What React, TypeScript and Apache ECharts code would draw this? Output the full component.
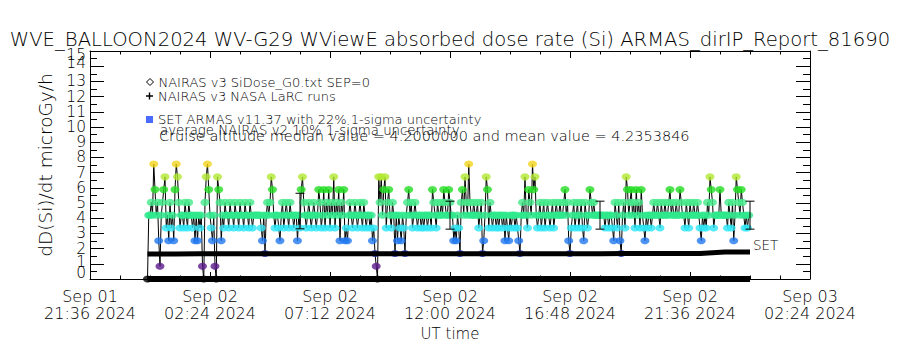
import React, { useEffect, useRef } from "react";
import * as echarts from "echarts";

const FONT = '"DejaVu Sans", sans-serif';
const TITLE = "WVE_BALLOON2024 WV-G29 WViewE absorbed dose rate (Si) ARMAS_dirIP_Report_81690";

// x axis: minutes after 2024-09-01 21:36 UT
const EPOCH_UTC = Date.UTC(2024, 8, 1, 21, 36);
const X_MAX_MIN = 1728;
const X_LABEL_STEP_MIN = 288;
const MONTHS = ["Jan", "Feb", "Mar", "Apr", "May", "Jun", "Jul", "Aug", "Sep", "Oct", "Nov", "Dec"];

// ARMAS: 3-minute cadence starting 23:54 UT, values are quantised levels
const ARMAS_START_MIN = 138;
const ARMAS_STEP_MIN = 3;
const ARMAS_LEVEL_VALUES = [0, 0.84, 1.68, 2.52, 3.36, 4.2, 5.04, 5.88, 6.72, 7.56];
const ARMAS_LEVEL_COLORS = [
  "#000000", "#5c1a8c", "#2a3cc8", "#1f78f0", "#2ee6f5",
  "#2ee88c", "#44ea8a", "#22dd22", "#b0e830", "#f2d41c",
];
// one string per hour, one digit (level index) per 3-minute sample
const ARMAS_CODES_BY_HOUR = [
  "05565975631567845364",
  "53798645546546554535",
  "35451068975435108763",
  "54655465546554655465",
  "54654555555435256568",
  "75455435645654655455",
  "35478654565456545764",
  "57465746584657365734",
  "35654565456546545545",
  "34210868578467546525",
  "35435425675645654554",
  "54554554765465565765",
  "57655343542675865965",
  "56556456235874654554",
  "54554535435455454325",
  "65854765978545645645",
  "65456456556556756324",
  "56456456436545765655",
  "55555545545543654632",
  "56487567564756475435",
  "45545655654655655675",
  "65565576554654655655",
  "65435454658764555575",
  "55554654635876576545",
  "45",
];

// NAIRAS v3 SiDose (hourly)
const NAIRAS_TIMES = [138, 204, 264, 324, 384, 444, 504, 564, 624, 684, 744, 804, 864, 924, 984, 1044, 1104, 1164, 1224, 1284, 1344, 1404, 1464, 1524, 1584];
const NAIRAS_DOSE = [1.64, 1.65, 1.66, 1.66, 1.66, 1.66, 1.66, 1.66, 1.66, 1.66, 1.66, 1.66, 1.66, 1.66, 1.66, 1.66, 1.66, 1.66, 1.66, 1.67, 1.67, 1.67, 1.68, 1.77, 1.78];

// NAIRAS v3 NASA LaRC runs
const LARC_TIMES = [138, 1584];
const LARC_DOSE = [0, 0];

// ARMAS 22% 1-sigma bars
const ERR_TIMES = [504, 864, 1224, 1584];
const ERR_LOW = [3.3, 3.28, 3.28, 3.28];
const ERR_HIGH = [5.64, 5.12, 5.12, 5.12];

const N_SIDOSE = "NAIRAS v3 SiDose_G0.txt SEP=0";
const N_LARC = "NAIRAS v3 NASA LaRC runs";
const N_ARMAS = "SET ARMAS v11.37 with 22% 1-sigma uncertainty";
const NOTE_1 = "average NAIRAS v2 10% 1-sigma uncertainty";
const NOTE_2 = "Cruise altitude median value = 4.2000000 and mean value = 4.2353846";

function pad(n: number) {
  return String(n).padStart(2, "0");
}
function fmtTime(m: number) {
  const d = new Date(EPOCH_UTC + m * 60000);
  return `${MONTHS[d.getUTCMonth()]} ${pad(d.getUTCDate())}\n${pad(d.getUTCHours())}:${pad(d.getUTCMinutes())} ${d.getUTCFullYear()}`;
}

function buildOption() {
  const codes = ARMAS_CODES_BY_HOUR.join("").split("").map(Number);
  const armasLine = codes.map((c, i) => [ARMAS_START_MIN + i * ARMAS_STEP_MIN, ARMAS_LEVEL_VALUES[c]]);
  const armasPts = codes.map((c, i) => ({
    value: [ARMAS_START_MIN + i * ARMAS_STEP_MIN, ARMAS_LEVEL_VALUES[c]],
    itemStyle: { color: ARMAS_LEVEL_COLORS[c] },
  }));
  const nairas = NAIRAS_TIMES.map((t, i) => [t, NAIRAS_DOSE[i]]);
  const larc = LARC_TIMES.map((t, i) => [t, LARC_DOSE[i]]);
  const errs = ERR_TIMES.map((t, i) => [t, ERR_LOW[i], ERR_HIGH[i]]);

  const black = "#000";
  const xBase = {
    type: "value",
    min: 0,
    max: X_MAX_MIN,
    interval: X_LABEL_STEP_MIN,
    axisLine: { show: true, onZero: false, lineStyle: { color: black, width: 1 } },
    axisTick: { show: true, inside: true, length: 7, lineStyle: { color: black, width: 1 } },
    minorTick: { show: true, splitNumber: 4, length: 3.5, lineStyle: { color: black, width: 1 } },
    splitLine: { show: false },
    minorSplitLine: { show: false },
  };
  const yBase = {
    type: "value",
    min: 0,
    max: 15,
    interval: 1,
    axisLine: { show: true, onZero: false, lineStyle: { color: black, width: 1 } },
    axisTick: { show: true, inside: true, length: 14, lineStyle: { color: black, width: 1 } },
    minorTick: { show: true, splitNumber: 2, length: 7, lineStyle: { color: black, width: 1 } },
    splitLine: { show: false },
    minorSplitLine: { show: false },
  };
  const tickFont = { fontFamily: FONT, fontSize: 15.5, color: black, fontWeight: 200 };

  return {
    animation: false,
    backgroundColor: "#ffffff",
    title: {
      text: TITLE,
      left: "center",
      top: 29,
      padding: 0,
      textStyle: { fontFamily: FONT, fontSize: 19.6, fontWeight: 200, color: black },
    },
    grid: { left: 90, right: 90, top: 51, bottom: 71, containLabel: false, outerBoundsMode: "none" },
    legend: [
      {
        data: [{ name: N_SIDOSE, icon: "diamond", itemStyle: { color: "#fff", borderColor: black, borderWidth: 1 } }],
        left: 146, top: 75, padding: 0, itemWidth: 7, itemHeight: 7, selectedMode: false,
        textStyle: { fontFamily: FONT, fontSize: 13, color: black, lineHeight: 14, fontWeight: 200 },
      },
      {
        data: [{ name: N_LARC, icon: "path://M2.4,0H3.6V2.4H6V3.6H3.6V6H2.4V3.6H0V2.4H2.4Z", itemStyle: { color: black } }],
        left: 146, top: 89, padding: 0, itemWidth: 7, itemHeight: 7, selectedMode: false,
        textStyle: { fontFamily: FONT, fontSize: 13, color: black, lineHeight: 14, fontWeight: 200 },
      },
      {
        data: [{ name: N_ARMAS, icon: "rect", itemStyle: { color: "#1e46ff" } }],
        left: 146, top: 112.5, padding: 0, itemWidth: 7, itemHeight: 7, selectedMode: false,
        textStyle: { fontFamily: FONT, fontSize: 13, color: black, lineHeight: 14, fontWeight: 200 },
      },
    ],
    graphic: [
      { type: "text", left: 160, top: 123.5, silent: true, style: { text: NOTE_1, font: `200 13.3px ${FONT}`, fill: black } },
      { type: "text", left: 159, top: 128.5, silent: true, style: { text: NOTE_2, font: `200 14.5px ${FONT}`, fill: black } },
    ],
    xAxis: [
      {
        ...xBase,
        position: "bottom",
        axisLabel: { formatter: fmtTime, fontFamily: FONT, fontSize: 16, lineHeight: 17, color: black, margin: 9, fontWeight: 200, showMinLabel: true, showMaxLabel: true },
        name: "UT time",
        nameLocation: "middle",
        nameGap: 44,
        nameTextStyle: { fontFamily: FONT, fontSize: 15, color: black, fontWeight: 200 },
      },
      { ...xBase, position: "top", axisLabel: { show: false } },
    ],
    yAxis: [
      {
        // ticks on the left side, labels 1..14
        ...yBase,
        position: "left",
        axisLabel: {
          ...tickFont,
          margin: 4,
          showMinLabel: false,
          showMaxLabel: false,
          formatter: (v: number) => (v === 14 ? `{up3|${v}}` : v === 1 ? `{up2|${v}}` : `${v}`),
          rich: {
            up3: { ...tickFont, padding: [0, 0, 6, 0] },
            up2: { ...tickFont, padding: [0, 0, 4, 0] },
          },
        },
        name: "dD(Si)/dt microGy/h",
        nameLocation: "middle",
        nameRotate: 90,
        nameGap: 33,
        nameTextStyle: { fontFamily: FONT, fontSize: 18.5, color: black, fontWeight: 200 },
      },
      { ...yBase, position: "right", axisLabel: { show: false } },
      {
        // end labels 0 and 15, pulled inside the frame
        type: "value",
        position: "left",
        min: 0,
        max: 15,
        interval: 15,
        axisLine: { show: false },
        axisTick: { show: false },
        splitLine: { show: false },
        axisLabel: {
          ...tickFont,
          margin: 4,
          showMinLabel: true,
          showMaxLabel: true,
          formatter: (v: number) => (v === 15 ? `{dn|${v}}` : `{up6|${v}}`),
          rich: {
            dn: { ...tickFont, padding: [8, 0, 0, 0] },
            up6: { ...tickFont, padding: [0, 0, 12, 0] },
          },
        },
      },
    ],
    series: [
      {
        name: "ARMAS trace",
        type: "line",
        data: armasLine,
        symbol: "none",
        lineStyle: { color: black, width: 1 },
        itemStyle: { color: black },
        z: 2,
      },
      {
        name: N_ARMAS,
        type: "scatter",
        data: armasPts,
        symbol: "circle",
        symbolSize: [9, 7],
        itemStyle: { color: "#1e46ff" },
        z: 3,
      },
      {
        name: N_SIDOSE,
        type: "line",
        data: nairas,
        symbol: "none",
        lineStyle: { color: black, width: 5 },
        itemStyle: { color: black },
        endLabel: { show: true, formatter: "SET", fontFamily: FONT, fontSize: 13.5, color: black, offset: [-5, -7], fontWeight: 200 },
        z: 4,
      },
      {
        name: N_LARC,
        type: "line",
        data: larc,
        symbol: "none",
        lineStyle: { color: black, width: 6 },
        itemStyle: { color: black },
        clip: true,
        z: 4,
      },
      {
        name: "ARMAS 22% 1-sigma",
        type: "custom",
        data: errs,
        encode: { x: 0, y: [1, 2] },
        z: 5,
        renderItem: (_p: any, api: any) => {
          const t = api.value(0);
          const lo = api.coord([t, api.value(1)]);
          const hi = api.coord([t, api.value(2)]);
          const hw = 4.5;
          const st = { stroke: black, lineWidth: 1 };
          return {
            type: "group",
            children: [
              { type: "line", shape: { x1: lo[0], y1: lo[1], x2: hi[0], y2: hi[1] }, style: st },
              { type: "line", shape: { x1: lo[0] - hw, y1: lo[1], x2: lo[0] + hw, y2: lo[1] }, style: st },
              { type: "line", shape: { x1: hi[0] - hw, y1: hi[1], x2: hi[0] + hw, y2: hi[1] }, style: st },
            ],
          };
        },
      },
    ],
  };
}

export default function App() {
  const ref = useRef<HTMLDivElement>(null);
  useEffect(() => {
    if (!ref.current) return;
    const chart = echarts.init(ref.current, null, { renderer: "svg" });
    chart.setOption(buildOption() as any);
    return () => chart.dispose();
  }, []);
  return <div ref={ref} style={{ position: "fixed", left: 0, top: 0, width: 900, height: 350, background: "#fff" }} />;
}
